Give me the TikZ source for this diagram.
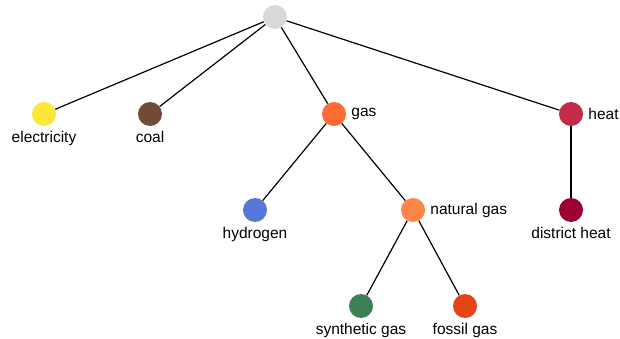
\documentclass[tikz,border=0pt]{standalone}
\usepackage{fontspec}
\setmainfont{Liberation Sans}
\usetikzlibrary{positioning}

\definecolor{rootgray}{HTML}{D9D9D9}
\definecolor{elecyellow}{HTML}{FDE83A}
\definecolor{coalbrown}{HTML}{744A37}
\definecolor{gasorange}{HTML}{FF6B35}
\definecolor{heatred}{HTML}{C42B4A}
\definecolor{hydroblue}{HTML}{5577D8}
\definecolor{natgasorange}{HTML}{FF8448}
\definecolor{districtred}{HTML}{9B0030}
\definecolor{syngreen}{HTML}{3E8056}
\definecolor{fossilred}{HTML}{E34315}

\tikzset{
    dot/.style={circle, fill=#1, draw=none, minimum size=24pt, inner sep=0pt},
    lbl/.style={font=\fontsize{15.5}{18}\selectfont, inner sep=2pt},
    edge/.style={line width=1.2pt}
}

\begin{document}
\begin{tikzpicture}[x=1pt, y=-1pt]
        \useasboundingbox (0,0) rectangle (620,339);
        \node[dot=rootgray] (root) at (275,17) {};
        \node[dot=elecyellow] (elec) at (44,114) {};
        \node[dot=coalbrown] (coal) at (150,114) {};
        \node[dot=gasorange] (gas) at (334,114) {};
        \node[dot=heatred] (heat) at (571,114) {};
        \node[dot=hydroblue] (hydro) at (255,210) {};
        \node[dot=natgasorange] (natgas) at (413,210) {};
        \node[dot=districtred] (district) at (571,210) {};
        \node[dot=syngreen] (syngas) at (361,306) {};
        \node[dot=fossilred] (fossil) at (465,306) {};
        \node[lbl, below=2.5pt of elec] {electricity};
        \node[lbl, below=2.5pt of coal] {coal};
        \node[lbl, right=3pt of gas] {gas};
        \node[lbl, right=3pt of heat] {heat};
        \node[lbl, below=2.5pt of hydro] {hydrogen};
        \node[lbl, right=3pt of natgas] {natural gas};
        \node[lbl, below=2.5pt of district] {district heat};
        \node[lbl, below=2.5pt of syngas] {synthetic gas};
        \node[lbl, below=2.5pt of fossil] {fossil gas};
        \draw[edge] (root) -- (elec);
        \draw[edge] (root) -- (coal);
        \draw[edge] (root) -- (gas);
        \draw[edge] (root) -- (heat);
        \draw[edge] (gas) -- (hydro);
        \draw[edge] (gas) -- (natgas);
        \draw[edge] (heat) -- (district);
        \draw[edge] (natgas) -- (syngas);
        \draw[edge] (natgas) -- (fossil);
    \end{tikzpicture}
\end{document}
